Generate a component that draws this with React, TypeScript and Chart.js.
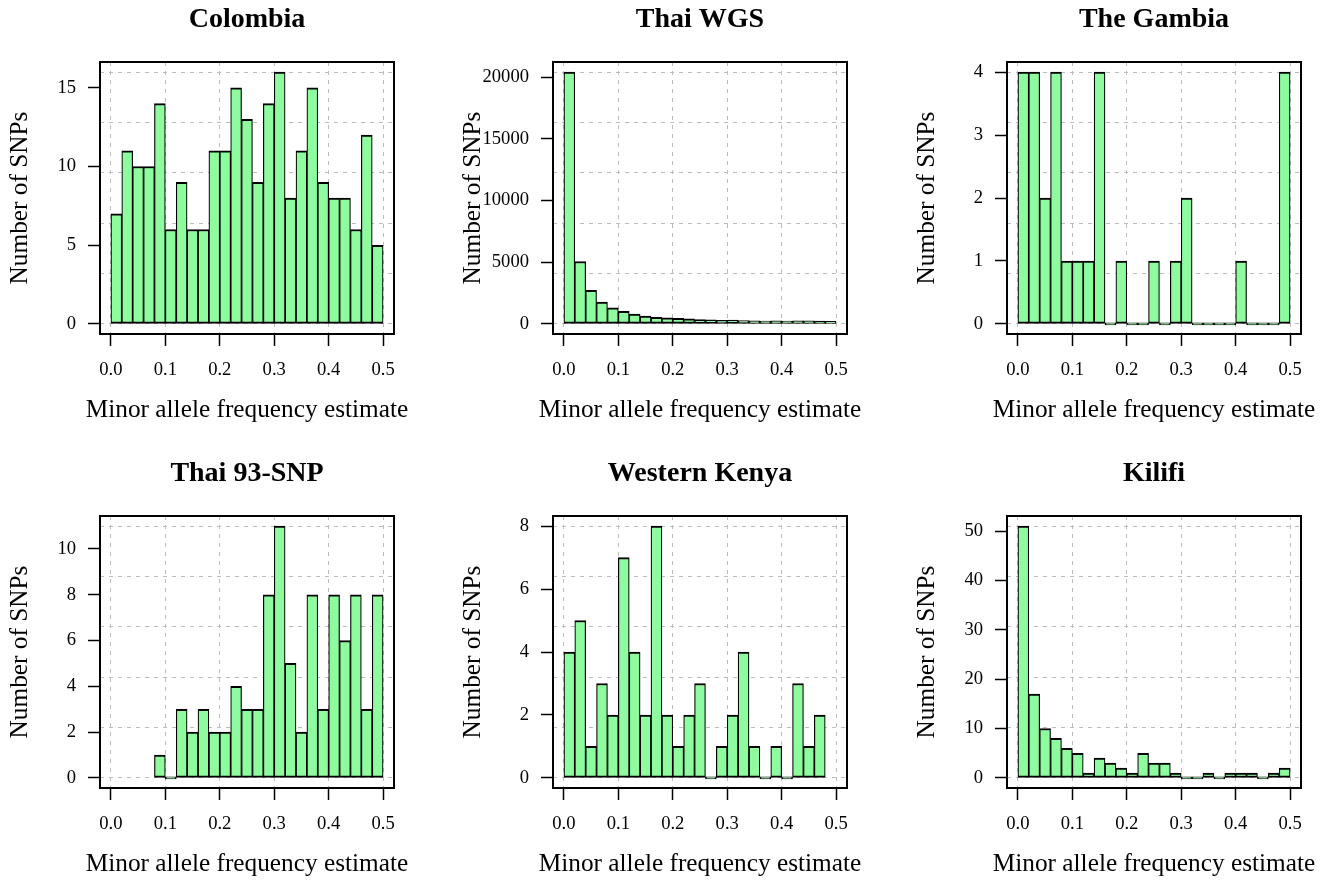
import React, { useEffect, useRef } from "react";
import { Chart, registerables } from "chart.js";

Chart.register(...registerables);

const FONT = "'Liberation Serif', 'Times New Roman', Times, serif";

// Histogram bins (width 0.02) on [0, 0.5]
const BIN_CENTERS = [
  0.01, 0.03, 0.05, 0.07, 0.09, 0.11, 0.13, 0.15, 0.17, 0.19, 0.21, 0.23, 0.25,
  0.27, 0.29, 0.31, 0.33, 0.35, 0.37, 0.39, 0.41, 0.43, 0.45, 0.47, 0.49,
];
const X_TICKS = [0, 0.1, 0.2, 0.3, 0.4, 0.5];
const X_LABEL = "Minor allele frequency estimate";
const Y_LABEL = "Number of SNPs";

const TITLES = ["Colombia", "Thai WGS", "The Gambia", "Thai 93-SNP", "Western Kenya", "Kilifi"];

// counts per bin (null = outside histogram range)
const COLOMBIA = [7, 11, 10, 10, 14, 6, 9, 6, 6, 11, 11, 15, 13, 9, 14, 16, 8, 11, 15, 9, 8, 8, 6, 12, 5];
const THAI_WGS = [20400, 5060, 2720, 1770, 1310, 1030, 790, 630, 540, 490, 460, 410, 360, 330, 300, 320, 280, 250, 240, 250, 240, 260, 250, 230, 220];
const GAMBIA = [4, 4, 2, 4, 1, 1, 1, 4, 0, 1, 0, 0, 1, 0, 1, 2, 0, 0, 0, 0, 1, 0, 0, 0, 4];
const THAI_93 = [null, null, null, null, 1, 0, 3, 2, 3, 2, 2, 4, 3, 3, 8, 11, 5, 2, 8, 3, 8, 6, 8, 3, 8];
const W_KENYA = [4, 5, 1, 3, 2, 7, 4, 2, 8, 2, 1, 2, 3, 0, 1, 2, 4, 1, 0, 1, 0, 3, 1, 2, null];
const KILIFI = [51, 17, 10, 8, 6, 5, 1, 4, 3, 2, 1, 5, 3, 3, 1, 0, 0, 1, 0, 1, 1, 1, 0, 1, 2];

const Y_TICKS_COLOMBIA = [0, 5, 10, 15];
const Y_TICKS_THAI_WGS = [0, 5000, 10000, 15000, 20000];
const Y_TICKS_GAMBIA = [0, 1, 2, 3, 4];
const Y_TICKS_THAI_93 = [0, 2, 4, 6, 8, 10];
const Y_TICKS_W_KENYA = [0, 2, 4, 6, 8];
const Y_TICKS_KILIFI = [0, 10, 20, 30, 40, 50];

const PANELS = [
  { title: TITLES[0], counts: COLOMBIA, yTicks: Y_TICKS_COLOMBIA, col: 0, row: 0 },
  { title: TITLES[1], counts: THAI_WGS, yTicks: Y_TICKS_THAI_WGS, col: 1, row: 0 },
  { title: TITLES[2], counts: GAMBIA, yTicks: Y_TICKS_GAMBIA, col: 2, row: 0 },
  { title: TITLES[3], counts: THAI_93, yTicks: Y_TICKS_THAI_93, col: 0, row: 1 },
  { title: TITLES[4], counts: W_KENYA, yTicks: Y_TICKS_W_KENYA, col: 1, row: 1 },
  { title: TITLES[5], counts: KILIFI, yTicks: Y_TICKS_KILIFI, col: 2, row: 1 },
];

const BOX_LEFT = [100, 553, 1007];
const BOX_TOP = [62, 516];
const PAD_L = 100;
const PAD_R = 100;
const PAD_T = 62;
const PAD_B = 120;
const BOX_W = 294;
const BOX_H = 272;
const CANVAS_W = PAD_L + BOX_W + PAD_R;
const CANVAS_H = PAD_T + BOX_H + PAD_B;

const LABEL_SIZE = 25.3;
const LABEL_LH = 1.2;
const XLABEL_PAD_BOTTOM = 28;
const XLABEL_BLOCK = LABEL_SIZE * LABEL_LH + XLABEL_PAD_BOTTOM;

const FILL = "#8EFB9F";
const GRID = "#bdbdbd";
const DASH = [4, 5];

function Panel({ title, counts, yTicks, col, row }: any) {
  const ref = useRef<HTMLCanvasElement>(null);
  useEffect(() => {
    if (!ref.current) return;
    const valid = counts.filter((v: any) => v !== null) as number[];
    const maxCount = Math.max(...valid);
    const yMin = -0.04 * maxCount;
    const yMax = 1.04 * maxCount;
    const gridVals = [0, 1, 2, 3, 4, 5].map((k) => (maxCount * k) / 5);
    const data = BIN_CENTERS.map((x, i) => ({ x, y: counts[i] })).filter((p) => p.y !== null);
    const tickFont = { family: FONT, size: 18.6 };
    const labelFont = { family: FONT, size: LABEL_SIZE, lineHeight: LABEL_LH };
    const chart = new Chart(ref.current, {
      type: "bar",
      data: {
        datasets: [
          {
            data: data as any,
            xAxisID: "x",
            yAxisID: "y",
            backgroundColor: FILL,
            borderColor: "#000",
            borderWidth: { top: 2, bottom: 2, left: 1.2, right: 1.2 } as any,
            borderSkipped: false,
            barPercentage: 1,
            categoryPercentage: 1,
            minBarLength: 2,
          },
        ],
      },
      options: {
        animation: false,
        responsive: false,
        events: [],
        layout: { padding: 0 },
        plugins: {
          legend: { display: false },
          tooltip: { enabled: false },
          title: {
            display: true,
            text: title,
            color: "#000",
            font: { family: FONT, size: 28, weight: "bold", lineHeight: 1.2 },
            padding: { top: 3, bottom: 25.4 },
          },
          subtitle: {
            display: true,
            position: "bottom",
            text: X_LABEL,
            color: "#000",
            font: labelFont,
            padding: { top: 0, bottom: XLABEL_PAD_BOTTOM },
          },
        },
        scales: {
          x: {
            type: "linear",
            position: "bottom",
            min: -0.02,
            max: 0.52,
            offset: false,
            afterBuildTicks: (s: any) => {
              s.ticks = X_TICKS.map((v) => ({ value: v }));
            },
            afterFit: (s: any) => {
              s.height = PAD_B - XLABEL_BLOCK;
            },
            ticks: {
              callback: (v: any) => Number(v).toFixed(1),
              font: tickFont,
              color: "#000",
              padding: 13,
              autoSkip: false,
              maxRotation: 0,
              minRotation: 0,
            },
            grid: {
              display: true,
              offset: false,
              drawOnChartArea: true,
              drawTicks: true,
              color: GRID,
              lineWidth: 1,
              tickLength: 12,
              tickColor: "#000",
              tickWidth: 1.5,
            },
            border: { display: true, color: "#000", width: 2, dash: DASH },
          },
          y: {
            type: "linear",
            position: "left",
            min: yMin,
            max: yMax,
            afterBuildTicks: (s: any) => {
              s.ticks = yTicks.map((v: number) => ({ value: v }));
            },
            afterFit: (s: any) => {
              s.width = PAD_L;
            },
            ticks: {
              callback: (v: any) => String(v),
              font: tickFont,
              color: "#000",
              padding: 12,
              autoSkip: false,
            },
            grid: {
              display: true,
              drawOnChartArea: false,
              drawTicks: true,
              tickLength: 12,
              tickColor: "#000",
              tickWidth: 1.5,
              color: "#000",
            },
            border: { display: true, color: "#000", width: 2 },
            title: {
              display: true,
              text: Y_LABEL,
              color: "#000",
              font: labelFont,
              padding: { top: 5, bottom: 0 },
            },
          },
          x2: {
            type: "linear",
            position: "top",
            min: -0.02,
            max: 0.52,
            offset: false,
            ticks: { display: false },
            grid: { display: false, drawTicks: false },
            border: { display: true, color: "#000", width: 2 },
            afterFit: (s: any) => {
              s.height = 0;
            },
          },
          y2: {
            type: "linear",
            position: "right",
            min: yMin,
            max: yMax,
            afterBuildTicks: (s: any) => {
              s.ticks = gridVals.map((v) => ({ value: v }));
            },
            afterFit: (s: any) => {
              s.width = PAD_R;
            },
            ticks: { display: false },
            grid: {
              display: true,
              drawOnChartArea: true,
              drawTicks: false,
              color: GRID,
              lineWidth: 1,
            },
            border: { display: true, color: "#000", width: 2, dash: DASH },
          },
        },
      } as any,
    });
    return () => chart.destroy();
  }, []);
  return (
    <canvas
      ref={ref}
      width={CANVAS_W}
      height={CANVAS_H}
      style={{
        position: "absolute",
        left: BOX_LEFT[col] - PAD_L,
        top: BOX_TOP[row] - PAD_T,
        width: CANVAS_W,
        height: CANVAS_H,
      }}
    />
  );
}

export default function App() {
  return (
    <div
      style={{
        position: "absolute",
        left: 0,
        top: 0,
        width: 1331,
        height: 883,
        overflow: "hidden",
        background: "#fff",
      }}
    >
      {PANELS.map((p) => (
        <Panel key={p.title} {...p} />
      ))}
    </div>
  );
}
